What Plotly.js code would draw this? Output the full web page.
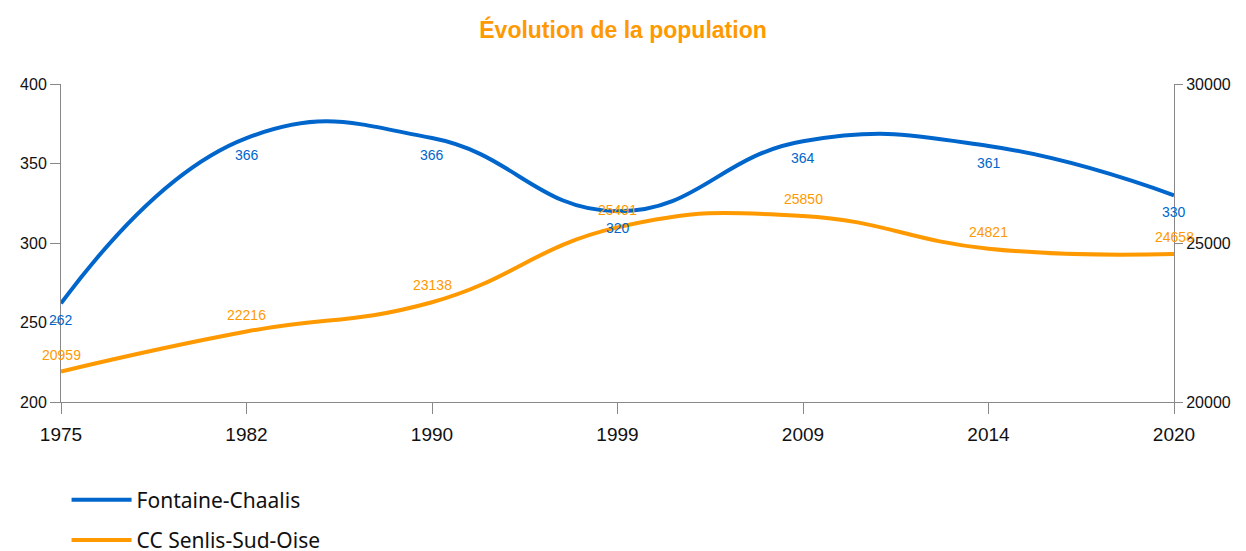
<!DOCTYPE html>
<html>
<head>
<meta charset="utf-8">
<script src="https://cdn.plot.ly/plotly-3.0.1.min.js"></script>
<style>html,body{margin:0;padding:0;background:#fff;}#chart{width:1246px;height:551px;}</style>
</head>
<body>
<div id="chart"></div>
<script>
const years = ["1975", "1982", "1990", "1999", "2009", "2014", "2020"];
const fontaine = [262, 366, 366, 320, 364, 361, 330];
const senlis = [20959, 22216, 23138, 25491, 25850, 24821, 24658];
const names = ["Fontaine-Chaalis", "CC Senlis-Sud-Oise"];
const blue = "#0066cc", orange = "#ff9900";
const labelFont = "Liberation Sans, Arial, sans-serif";

const traces = [
  {
    x: years, y: fontaine, name: names[0], type: "scatter", mode: "lines", legendgroup: "a",
    line: {color: blue, width: 4, shape: "spline", smoothing: 1.3}, hoverinfo: "x+y"
  },
  {
    x: years, y: senlis, name: names[1], type: "scatter", mode: "lines", yaxis: "y2", legendgroup: "b",
    line: {color: orange, width: 4, shape: "spline", smoothing: 1.3}, hoverinfo: "x+y"
  }
];

const annotations = [];
years.forEach((yr, i) => {
  annotations.push({x: i, y: fontaine[i], xref: "x", yref: "y", text: String(fontaine[i]),
    showarrow: false, yshift: -17, font: {family: labelFont, size: 14, color: blue}});
  annotations.push({x: i, y: senlis[i], xref: "x", yref: "y2", text: String(senlis[i]),
    showarrow: false, yshift: 17, font: {family: labelFont, size: 14, color: orange}});
});

const axisCommon = {
  showgrid: false, zeroline: false, showline: true, linecolor: "#888", linewidth: 1,
  ticks: "outside", tickcolor: "#888", ticklen: 10, automargin: false,
  tickfont: {family: labelFont, size: 16, color: "#111"}
};

const layout = {
  width: 1246, height: 551,
  margin: {l: 61, r: 72, t: 84, b: 149, autoexpand: false},
  paper_bgcolor: "#fff", plot_bgcolor: "#fff",
  title: {text: "Évolution de la population", x: 0.5, xref: "container", y: 0.945, yanchor: "middle",
    font: {family: labelFont, size: 23, color: orange, weight: "bold"}},
  xaxis: Object.assign({}, axisCommon, {type: "category", range: [0, 6],
    tickfont: {family: labelFont, size: 19, color: "#111"}, ticklen: 11, ticklabelstandoff: 4}),
  yaxis: Object.assign({}, axisCommon, {range: [200, 400], dtick: 50, tick0: 200}),
  yaxis2: Object.assign({}, axisCommon, {range: [20000, 30000], dtick: 5000, tick0: 20000,
    tickformat: "d", overlaying: "y", side: "right", ticklen: 8}),
  annotations: annotations,
  showlegend: true,
  legend: {orientation: "v", x: 0.005, xanchor: "left", y: -0.244, yanchor: "top",
    font: {family: "Noto Sans, sans-serif", size: 21, color: "#111"}, tracegroupgap: 10, itemwidth: 60}
};

Plotly.newPlot("chart", traces, layout, {displayModeBar: false, staticPlot: true});
</script>
</body>
</html>
